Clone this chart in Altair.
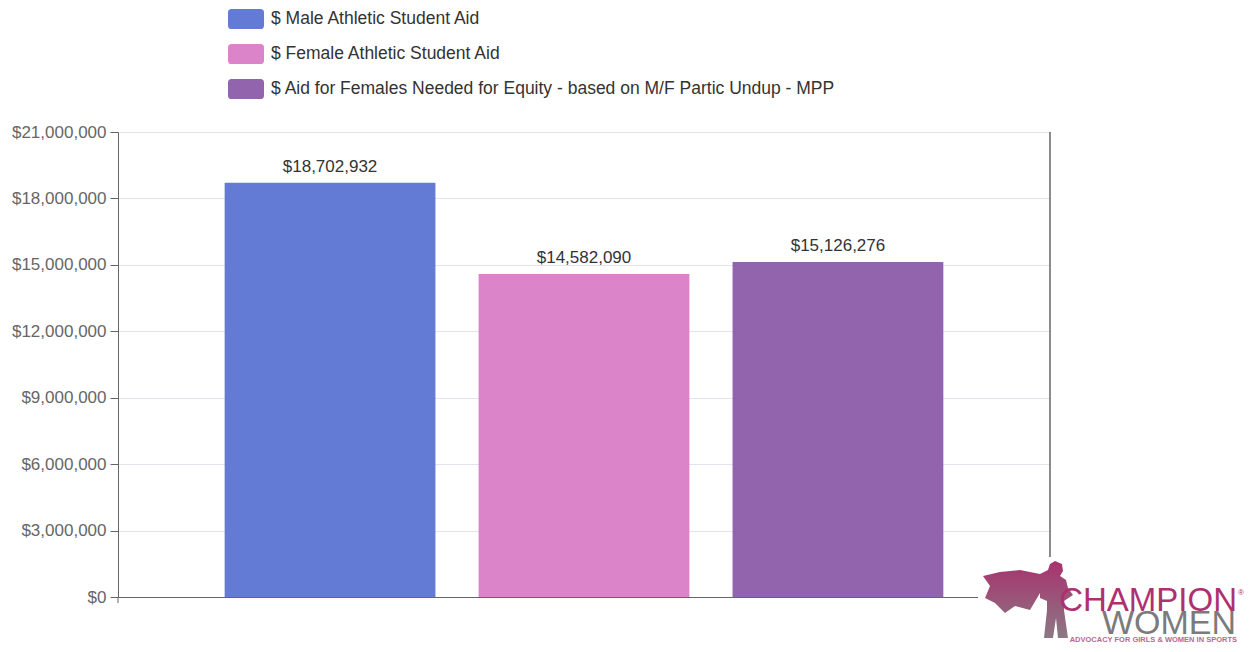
import altair as alt
import pandas as pd

# ---------------- data ----------------
categories = [
    "$ Male Athletic Student Aid",
    "$ Female Athletic Student Aid",
    "$ Aid for Females Needed for Equity - based on M/F Partic Undup - MPP",
]
values = [18702932, 14582090, 15126276]
colors = ["#647bd6", "#dc84c9", "#9264ae"]
y_ticks = [0, 3000000, 6000000, 9000000, 12000000, 15000000, 18000000, 21000000]

df = pd.DataFrame({"category": categories, "value": values})

FONT = "Liberation Sans, Arial, Helvetica, sans-serif"
W, H = 932, 465

# rounded rectangle legend swatch (36 x 20 px when size = 1296)
LEGEND_PATH = (
    "M-0.8,-0.556 L0.8,-0.556 Q1,-0.556 1,-0.356 L1,0.356 Q1,0.556 0.8,0.556 "
    "L-0.8,0.556 Q-1,0.556 -1,0.356 L-1,-0.356 Q-1,-0.556 -0.8,-0.556 Z"
)

x_enc = alt.X(
    "category:N",
    sort=categories,
    scale=alt.Scale(paddingInner=0.17, paddingOuter=0.42),
    axis=alt.Axis(title=None, labels=False, ticks=False, grid=False,
                  domain=True, domainColor="#666666", domainWidth=1),
)
y_enc = alt.Y(
    "value:Q",
    scale=alt.Scale(domain=[0, 21000000], nice=False),
    axis=alt.Axis(
        title=None,
        values=y_ticks,
        labelExpr="'$' + format(datum.value, ',')",
        labelFont=FONT,
        labelFontSize=17,
        labelColor="#666666",
        tickSize=8,
        tickColor="#666666",
        labelPadding=4,
        domainColor="#666666",
        domainWidth=1,
        grid=True,
        gridColor="#e2e2f0",
        gridWidth=1,
    ),
)
color_enc = alt.Color(
    "category:N",
    sort=categories,
    scale=alt.Scale(domain=categories, range=colors),
    legend=alt.Legend(
        title=None,
        orient="none",
        legendX=110,
        legendY=-131,
        direction="vertical",
        symbolType=LEGEND_PATH,
        symbolSize=1296,
        symbolStrokeWidth=0,
        symbolOpacity=1,
        labelFont=FONT,
        labelFontSize=17.5,
        labelColor="#333333",
        labelOffset=7,
        labelLimit=0,
        rowPadding=6,
        padding=0,
    ),
)

base = alt.Chart(df)
bars = base.mark_bar().encode(x=x_enc, y=y_enc, color=color_enc)
labels = (
    base.transform_calculate(label="'$' + format(datum.value, ',')")
    .mark_text(baseline="bottom", dy=-7, font=FONT, fontSize=17, color="#333333")
    .encode(x=alt.X("category:N", sort=categories), y=alt.Y("value:Q"), text="label:N")
)

one = alt.Data(values=[{}])
right_rule = alt.Chart(one).mark_rule(color="#666666", strokeWidth=1.5).encode(
    x=alt.value(W), y=alt.value(0), y2=alt.value(H)
)
left_stub = alt.Chart(one).mark_rule(color="#666666", strokeWidth=1).encode(
    x=alt.value(0), y=alt.value(H), y2=alt.value(H + 6)
)

# ---------------- logo (decorative) ----------------
logo_bg = alt.Chart(one).mark_rect(color="white").encode(
    x=alt.value(860), x2=alt.value(1128), y=alt.value(425), y2=alt.value(520)
)
pts = [(29, -39), (36, -36), (37, -29), (34, -24), (40, -20), (42, -12), (47, -5),
       (38, 1), (38, 10), (42, 38), (32, 38), (30, 18), (27, 38), (18, 38), (21, 10),
       (21, 1), (14, -2), (14, -7), (4, 10), (-11, 6), (-21, 13), (-31, 3), (-41, -2),
       (-36, -14), (-43, -24), (-26, -28), (-6, -30), (14, -26), (22, -30), (24, -36)]
sil_path = "M" + " L".join(f"{px/45:.3f},{py/45:.3f}" for px, py in pts) + " Z"
silhouette = alt.Chart(one).mark_point(
    shape=sil_path, size=8100, filled=True, opacity=1, strokeWidth=0,
    fill=alt.LinearGradient(
        gradient="linear",
        stops=[alt.GradientStop(color="#a8326e", offset=0),
               alt.GradientStop(color="#8c7884", offset=1)],
        x1=0, x2=0, y1=0, y2=1,
    ),
).encode(x=alt.value(908), y=alt.value(468))

logo_champion = alt.Chart(one).mark_text(
    text="CHAMPION", align="right", baseline="alphabetic", font=FONT,
    fontSize=33, color="#b0306f"
).encode(x=alt.value(1119), y=alt.value(479))
logo_reg = alt.Chart(one).mark_text(
    text="®", align="left", baseline="alphabetic", font=FONT,
    fontSize=8, color="#b0306f"
).encode(x=alt.value(1120), y=alt.value(463))
logo_women = alt.Chart(one).mark_text(
    text="WOMEN", align="right", baseline="alphabetic", font=FONT,
    fontSize=34, color="#7b7b7b"
).encode(x=alt.value(1118), y=alt.value(502))
logo_tag = alt.Chart(one).mark_text(
    text="ADVOCACY FOR GIRLS & WOMEN IN SPORTS", align="right", baseline="alphabetic",
    font=FONT, fontSize=7.5, fontWeight="bold", color="#b56a90"
).encode(x=alt.value(1119), y=alt.value(510))

chart = (
    alt.layer(bars, labels, right_rule, left_stub, logo_bg, silhouette,
              logo_champion, logo_reg, logo_women, logo_tag)
    .properties(
        width=W,
        height=H,
        padding={"left": 110, "top": 124, "right": 196, "bottom": 47},
        autosize=alt.AutoSizeParams(type="none"),
    )
    .configure_view(stroke=None)
)

chart.save("out.html", embed_options={"renderer": "svg", "actions": False})
